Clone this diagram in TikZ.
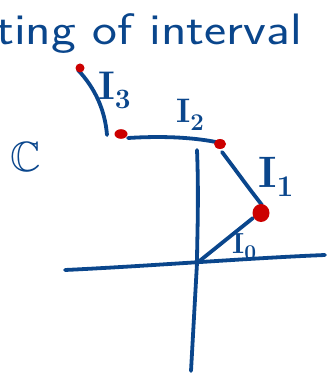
\documentclass[tikz,border=0pt]{standalone}
\usepackage{amssymb}
\usepackage{graphicx}
\usetikzlibrary{calc}
\definecolor{ink}{HTML}{0A468C}
\definecolor{dotred}{HTML}{CC0000}
\newcommand{\Ilab}[3]{\fontsize{#1}{#1}\selectfont\bfseries I\raisebox{-0.22em}{\fontsize{#2}{#2}\selectfont #3}}
\tikzset{
  pen/.style={draw=ink, line width=3.8pt, line cap=round, line join=round},
  reddot/.style={fill=dotred, draw=none},
  lbl/.style={text=ink, inner sep=0pt, anchor=base west},
}
\begin{document}
\begin{tikzpicture}[x=1pt,y=-1pt]
\useasboundingbox (0,0) rectangle (329,374);
% points
\coordinate (O) at (197,263);
\coordinate (Hl) at (65,270);
\coordinate (Hr) at (325,255);
\coordinate (Vt) at (197,150);
\coordinate (Vb) at (191,371);
\coordinate (P0) at (261,213);
\coordinate (P1) at (220,144);
\coordinate (P2) at (121,134);
\coordinate (P3) at (80,68);
% axes
\draw[pen] (Hl) .. controls (150,266) and (250,258) .. (Hr);
\draw[pen] (Vt) .. controls (199,200) and (197,240) .. (O) -- (Vb);
% I0
\draw[pen] (O) -- ($(P0)+(-8,5)$);
% I1
\draw[pen] ($(P0)+(1,-8)$) .. controls (250,190) and (232,165) .. ($(P1)+(2,8)$);
% I2
\draw[pen] ($(P2)+(7,4)$) .. controls (160,136) and (190,137) .. ($(P1)+(-4,-2)$);
% I3
\draw[pen] ($(P3)+(-2,2)$) .. controls (95,88) and (105,110) .. (107,135);
% red dots
\fill[reddot] (P0) ellipse (8.5pt and 9pt);
\fill[reddot] (P1) ellipse (6pt and 5pt);
\fill[reddot] (P2) ellipse (6.5pt and 4.8pt);
\fill[reddot] (P3) circle (4.5pt);
% labels
\node[lbl] (t) at (-4,45) {\scalebox{1.2}[1]{\fontsize{44}{44}\selectfont\sffamily ting of interval}};
\node[lbl] (l3) at (98,100) {\Ilab{40}{28}{3}};
\node[lbl] (l2) at (176,123) {\Ilab{34}{24}{2}};
\node[lbl] (l1) at (258,187) {\Ilab{44}{30}{1}};
\node[lbl] (l0) at (232,253) {\Ilab{29}{21}{0}};
\node[text=ink, inner sep=0pt] (C) at (26,157) {\fontsize{24.88}{24.88}\selectfont\scalebox{1.7}{$\mathbb{C}$}};
\end{tikzpicture}
\end{document}
